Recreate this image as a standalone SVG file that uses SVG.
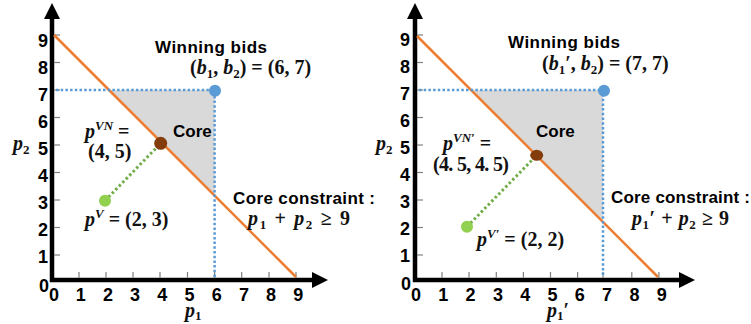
<svg xmlns="http://www.w3.org/2000/svg" width="751" height="324" viewBox="0 0 751 324">
<style>
.ax{fill:none;stroke:#000;stroke-width:4.5;stroke-linejoin:miter}
.ah{fill:#000}
.tk{stroke:#808080;stroke-width:1.2}
.lbl{font-family:"Liberation Sans",Arial,sans-serif;font-weight:bold;font-size:17px;fill:#000}
.num{font-family:"Liberation Sans",Arial,sans-serif;font-weight:bold;font-size:18px;fill:#000}
.m{font-family:"Liberation Serif","Times New Roman",serif;font-weight:bold;font-size:20px;fill:#111}
.i{font-style:italic}
.core{fill:#D9D9D9}
.cons{stroke:#ED7D31;stroke-width:2.5;fill:none}
.bd{stroke:#5B9BD5;stroke-width:2.5;stroke-dasharray:2.5 2.2;fill:none}
.gd{stroke:#70AD47;stroke-width:3;stroke-dasharray:2.5 2.5;fill:none}
</style>
<g id="left-plot">
  <g id="left-axes">
    <path class="ax" d="M52,17 V280 H313"/>
    <polygon class="ah" points="52,3 44,19 60,19"/>
    <polygon class="ah" points="328,280 312,272 312,288"/>
    <g class="tk">
      <line x1="54" y1="35" x2="60" y2="35"/><line x1="54" y1="62.5" x2="60" y2="62.5"/><line x1="54" y1="90" x2="60" y2="90"/>
      <line x1="54" y1="117.5" x2="60" y2="117.5"/><line x1="54" y1="145" x2="60" y2="145"/><line x1="54" y1="172.5" x2="60" y2="172.5"/>
      <line x1="54" y1="200" x2="60" y2="200"/><line x1="54" y1="227.5" x2="60" y2="227.5"/><line x1="54" y1="255" x2="60" y2="255"/>
      <line x1="79" y1="272" x2="79" y2="278"/><line x1="106" y1="272" x2="106" y2="278"/><line x1="133" y1="272" x2="133" y2="278"/>
      <line x1="160" y1="272" x2="160" y2="278"/><line x1="187.5" y1="272" x2="187.5" y2="278"/><line x1="214.6" y1="272" x2="214.6" y2="278"/>
      <line x1="241.7" y1="272" x2="241.7" y2="278"/><line x1="269" y1="272" x2="269" y2="278"/><line x1="296" y1="272" x2="296" y2="278"/>
    </g>
    <g class="num" text-anchor="end">
      <text x="48" y="47">9</text><text x="48" y="74">8</text><text x="48" y="101">7</text><text x="48" y="128">6</text>
      <text x="48" y="155">5</text><text x="48" y="182">4</text><text x="48" y="209">3</text><text x="48" y="236">2</text>
      <text x="48" y="263">1</text><text x="49" y="292">0</text>
    </g>
    <g class="num" text-anchor="middle">
      <text x="54" y="301">0</text><text x="80.7" y="301">1</text><text x="107.9" y="301">2</text><text x="135.1" y="301">3</text>
      <text x="162.3" y="301">4</text><text x="189.5" y="301">5</text><text x="216.7" y="301">6</text><text x="243.9" y="301">7</text>
      <text x="271.1" y="301">8</text><text x="298.3" y="301">9</text>
    </g>
    <text class="m" x="13" y="150"><tspan class="i">p</tspan><tspan font-size="13" dy="4">2</tspan></text>
    <text class="m" x="185" y="317"><tspan class="i">p</tspan><tspan font-size="13" dy="3">1</tspan></text>
  </g>
  <g id="left-core"><polygon class="core" points="109,90 214.6,90 214.6,195.6"/></g>
  <g id="left-connectors">
    <line class="cons" x1="54" y1="35" x2="296" y2="277"/>
    <polyline class="bd" points="56,90 214.6,90 214.6,277"/>
    <line class="gd" x1="105" y1="200.7" x2="160.7" y2="143.3"/>
  </g>
  <g id="left-bids"><circle cx="215" cy="90.7" r="6" fill="#5B9BD5"/>
    <text class="lbl" x="155" y="53" textLength="112">Winning bids</text>
    <text class="m" x="190" y="74">(<tspan class="i">b</tspan><tspan font-size="13" dy="4">1</tspan><tspan dy="-4">, </tspan><tspan class="i">b</tspan><tspan font-size="13" dy="4">2</tspan><tspan dy="-4">) = (6, 7)</tspan></text>
  </g>
  <g id="left-core-label"><text class="lbl" x="173" y="137">Core</text></g>
  <g id="left-vn"><circle cx="160.7" cy="143.3" r="6.5" fill="#843C0C"/>
    <text class="m" x="85" y="138"><tspan class="i">p</tspan><tspan class="i" font-size="13" dy="-8">VN</tspan><tspan dy="8"> =</tspan></text>
    <text class="m" x="88" y="158">(4, 5)</text>
  </g>
  <g id="left-v"><circle cx="105" cy="200.7" r="6" fill="#92D050"/>
    <text class="m" x="85" y="226"><tspan class="i">p</tspan><tspan class="i" font-size="13" dy="-8">V</tspan><tspan dy="8"> = (2, 3)</tspan></text>
  </g>
  <g id="left-constraint">
    <text class="lbl" x="233" y="204" textLength="142">Core constraint :</text>
    <text class="m" x="248" y="225" textLength="102"><tspan class="i">p</tspan><tspan font-size="13" dy="4">1</tspan><tspan dy="-4"> + </tspan><tspan class="i">p</tspan><tspan font-size="13" dy="4">2</tspan><tspan dy="-4"> ≥ 9</tspan></text>
  </g>
</g>
<g id="right-plot">
  <g id="right-axes">
    <path class="ax" d="M415,17 V280 H680"/>
    <polygon class="ah" points="415,3 407,19 423,19"/>
    <polygon class="ah" points="695,280 679,272 679,288"/>
    <g class="tk">
      <line x1="417" y1="35" x2="423" y2="35"/><line x1="417" y1="62.5" x2="423" y2="62.5"/><line x1="417" y1="90" x2="423" y2="90"/>
      <line x1="417" y1="117.5" x2="423" y2="117.5"/><line x1="417" y1="145" x2="423" y2="145"/><line x1="417" y1="172.5" x2="423" y2="172.5"/>
      <line x1="417" y1="200" x2="423" y2="200"/><line x1="417" y1="227.5" x2="423" y2="227.5"/><line x1="417" y1="255" x2="423" y2="255"/>
      <line x1="442" y1="272" x2="442" y2="278"/><line x1="469" y1="272" x2="469" y2="278"/><line x1="496.3" y1="272" x2="496.3" y2="278"/>
      <line x1="523.4" y1="272" x2="523.4" y2="278"/><line x1="550.5" y1="272" x2="550.5" y2="278"/><line x1="577.6" y1="272" x2="577.6" y2="278"/>
      <line x1="603" y1="272" x2="603" y2="278"/><line x1="631.8" y1="272" x2="631.8" y2="278"/><line x1="658.9" y1="272" x2="658.9" y2="278"/>
    </g>
    <g class="num" text-anchor="end">
      <text x="410" y="46">9</text><text x="410" y="73">8</text><text x="410" y="100">7</text><text x="410" y="127">6</text>
      <text x="410" y="154">5</text><text x="410" y="181">4</text><text x="410" y="208">3</text><text x="410" y="235">2</text>
      <text x="410" y="262">1</text><text x="411" y="290">0</text>
    </g>
    <g class="num" text-anchor="middle">
      <text x="416" y="301">0</text><text x="443.3" y="301">1</text><text x="470.6" y="301">2</text><text x="497.9" y="301">3</text>
      <text x="525.2" y="301">4</text><text x="552.5" y="301">5</text><text x="579.8" y="301">6</text><text x="607.1" y="301">7</text>
      <text x="634.4" y="301">8</text><text x="661.7" y="301">9</text>
    </g>
    <text class="m" x="376" y="150"><tspan class="i">p</tspan><tspan font-size="13" dy="4">2</tspan></text>
    <text class="m" x="547" y="317"><tspan class="i">p</tspan><tspan font-size="13" dy="3">1</tspan><tspan dy="-3">′</tspan></text>
  </g>
  <g id="right-core"><polygon class="core" points="471,90 603,90 603,222"/></g>
  <g id="right-connectors">
    <line class="cons" x1="417" y1="36" x2="658" y2="277"/>
    <polyline class="bd" points="419,90 603,90 603,277"/>
    <line class="gd" x1="467" y1="226.7" x2="536.7" y2="155.3"/>
  </g>
  <g id="right-bids"><circle cx="604" cy="90.7" r="6" fill="#5B9BD5"/>
    <text class="lbl" x="508" y="48" textLength="112">Winning bids</text>
    <text class="m" x="542" y="70">(<tspan class="i">b</tspan><tspan font-size="13" dy="4">1</tspan><tspan dy="-4">′, </tspan><tspan class="i">b</tspan><tspan font-size="13" dy="4">2</tspan><tspan dy="-4">) = (7, 7)</tspan></text>
  </g>
  <g id="right-core-label"><text class="lbl" x="536" y="137">Core</text></g>
  <g id="right-vn"><ellipse cx="536.7" cy="155.3" rx="6.5" ry="5.5" fill="#843C0C"/>
    <text class="m" x="443" y="150"><tspan class="i">p</tspan><tspan class="i" font-size="13" dy="-8">VN′</tspan><tspan dy="8"> =</tspan></text>
    <text class="m" x="433" y="171" textLength="76">(4. 5, 4. 5)</text>
  </g>
  <g id="right-v"><circle cx="467" cy="226.7" r="6" fill="#92D050"/>
    <text class="m" x="477" y="246"><tspan class="i">p</tspan><tspan class="i" font-size="13" dy="-8">V′</tspan><tspan dy="8"> = (2, 2)</tspan></text>
  </g>
  <g id="right-constraint">
    <text class="lbl" x="611" y="203" textLength="139">Core constraint :</text>
    <text class="m" x="632" y="225" textLength="97"><tspan class="i">p</tspan><tspan font-size="13" dy="4">1</tspan><tspan dy="-4">′ + </tspan><tspan class="i">p</tspan><tspan font-size="13" dy="4">2</tspan><tspan dy="-4"> ≥ 9</tspan></text>
  </g>
</g>
</svg>
